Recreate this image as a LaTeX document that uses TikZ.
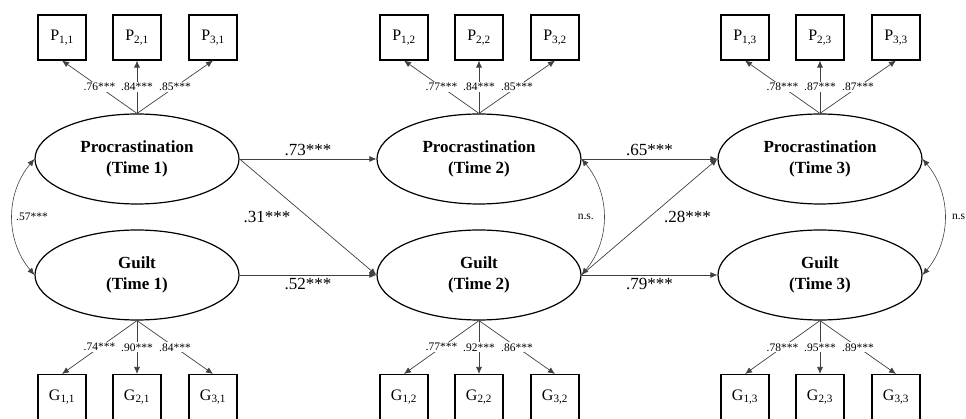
\documentclass[tikz,border=0pt]{standalone}
\usepackage{fontspec}
\setmainfont{Liberation Serif}
\usetikzlibrary{arrows.meta,shapes.geometric}

\begin{document}
\begin{tikzpicture}[x=1pt, y=1pt,
		latent/.style={draw, ellipse, line width=1.2pt, minimum width=204pt, minimum height=90pt, inner sep=0pt, align=center, font=\fontsize{17}{21}\selectfont\bfseries},
		ind/.style={draw, rectangle, line width=1.1pt, minimum width=48pt, minimum height=45pt, inner sep=0pt, font=\fontsize{16}{18}\selectfont},
		reg/.style={draw=black!75, line width=0.7pt, -{Latex[length=7pt,width=6pt]}},
		cov/.style={draw=black!75, line width=0.6pt, {Latex[length=7pt,width=6pt]}-{Latex[length=7pt,width=6pt]}},
		big/.style={font=\fontsize{17}{19}\selectfont},
		small/.style={font=\fontsize{11.5}{13}\selectfont}]
		\useasboundingbox (0,0) rectangle (966,-419);

		\node[latent] (p1) at (137,-159) {Procrastination\\(Time 1)};
		\node[latent] (g1) at (137,-275) {Guilt\\(Time 1)};
		\node[latent] (p2) at (479,-159) {Procrastination\\(Time 2)};
		\node[latent] (g2) at (479,-275) {Guilt\\(Time 2)};
		\node[latent] (p3) at (820,-159) {Procrastination\\(Time 3)};
		\node[latent] (g3) at (820,-275) {Guilt\\(Time 3)};

		\foreach \t/\cx/\a/\b/\c in {1/137/.76/.84/.85, 2/479/.77/.84/.85, 3/820/.78/.87/.87} {
			\foreach \i/\dx/\l in {1/-75/\a, 2/0/\b, 3/76/\c} {
				\node[ind] (P\i\t) at (\cx+\dx,-37.5) {P\textsubscript{\i,\t}};
				\draw[reg] (p\t.north) -- node[midway, fill=white, inner sep=1pt, small] {\l***} (P\i\t.south);
			}
		}
		\foreach \t/\cx/\a/\b/\c in {1/137/.74/.90/.84, 2/479/.77/.92/.86, 3/820/.78/.95/.89} {
			\foreach \i/\dx/\l in {1/-75/\a, 2/0/\b, 3/76/\c} {
				\node[ind] (G\i\t) at (\cx+\dx,-397) {G\textsubscript{\i,\t}};
				\draw[reg] (g\t.south) -- node[midway, fill=white, inner sep=1pt, small] {\l***} (G\i\t.north);
			}
		}

		\draw[reg] (p1.east) -- node[above, big] {.73***} (p2.west);
		\draw[reg] (g1.east) -- node[below, big] {.52***} (g2.west);
		\draw[reg] (p1.east) -- node[midway, left=14pt, big] {.31***} (g2.west);
		\draw[reg] (p2.east) -- node[above, big] {.65***} (p3.west);
		\draw[reg] (g2.east) -- node[below, big] {.79***} (g3.west);
		\draw[reg] (g2.east) -- node[midway, right=11pt, big] {.28***} (p3.west);

		\draw[cov] (p1.west) to[bend right=40] node[midway, right, small] {.57***} (g1.west);
		\draw[cov] (p2.east) to[bend left=40] node[midway, left=6pt, small] {n.s.} (g2.east);
		\draw[cov] (p3.east) to[bend left=40] node[midway, right=4pt, small] {n.s} (g3.east);
\end{tikzpicture}
\end{document}
